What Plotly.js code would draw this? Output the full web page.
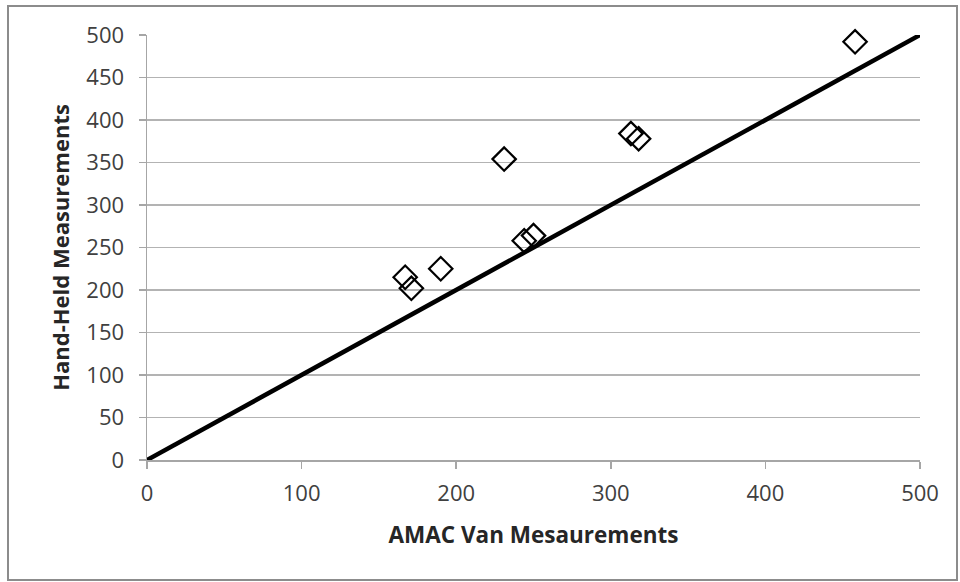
<!DOCTYPE html>
<html>
<head>
<meta charset="utf-8">
<script src="https://cdn.plot.ly/plotly-3.0.1.min.js"></script>
<style>html,body{margin:0;padding:0;background:#fff;}#chart{width:960px;height:582px;}</style>
</head>
<body>
<div id="chart"></div>
<script>
const vanX = [458, 313, 318, 231, 244, 250, 190, 167, 171];
const handY = [492, 384, 378, 354, 258, 264, 225, 215, 202];
const lineX = [0, 500];
const lineY = [0, 500];
const tickVals = [0, 50, 100, 150, 200, 250, 300, 350, 400, 450, 500];
const xTickVals = [0, 100, 200, 300, 400, 500];

const L = 147, R = 40, T = 35, B = 122, W = 960, H = 582;
const pw = W - L - R, ph = H - T - B;
const px = v => (v - L) / pw;
const py = v => (H - B - v) / ph;

const traces = [
  {x: lineX, y: lineY, mode: 'lines', type: 'scatter', line: {color: '#000', width: 4.5}, hoverinfo: 'skip', cliponaxis: false},
  {x: vanX, y: handY, mode: 'markers', type: 'scatter',
   marker: {symbol: 'diamond-open', size: 18, color: '#000', line: {color: '#000', width: 2.2}}, cliponaxis: false}
];

const layout = {
  width: W, height: H,
  margin: {l: L, r: R, t: T, b: B},
  showlegend: false,
  paper_bgcolor: '#fff', plot_bgcolor: '#fff',
  font: {family: 'Open Sans, Liberation Sans, sans-serif', color: '#404040', size: 16},
  xaxis: {
    range: [0, 500], tickvals: xTickVals, showgrid: false, zeroline: false,
    showline: true, linecolor: '#a6a6a6', linewidth: 1.5,
    ticks: 'outside', ticklen: 7, tickcolor: '#a6a6a6', tickwidth: 1.5,
    ticklabelstandoff: 6,
    tickfont: {size: 22, color: '#404040'},
    title: {text: '<b>AMAC Van Mesaurements</b>', font: {size: 22.5, color: '#262626'}, standoff: 21}
  },
  yaxis: {
    range: [0, 500], tickvals: tickVals, showgrid: true, gridcolor: '#b3b3b3', gridwidth: 1.5, zeroline: false,
    showline: true, linecolor: '#a6a6a6', linewidth: 1.5,
    ticks: 'outside', ticklen: 7, tickcolor: '#a6a6a6', tickwidth: 1.5,
    ticklabelstandoff: 10,
    tickfont: {size: 22, color: '#404040'},
    title: {text: '<b>Hand-Held Measurements</b>', font: {size: 22, color: '#262626'}, standoff: 10}
  },
  shapes: [
    {type: 'rect', xref: 'paper', yref: 'paper', x0: px(8), x1: px(957), y0: py(580), y1: py(6),
     line: {color: '#8c8c8c', width: 2}, fillcolor: 'rgba(0,0,0,0)', layer: 'below'}
  ]
};

Plotly.newPlot('chart', traces, layout, {displayModeBar: false, staticPlot: true});
</script>
</body>
</html>
